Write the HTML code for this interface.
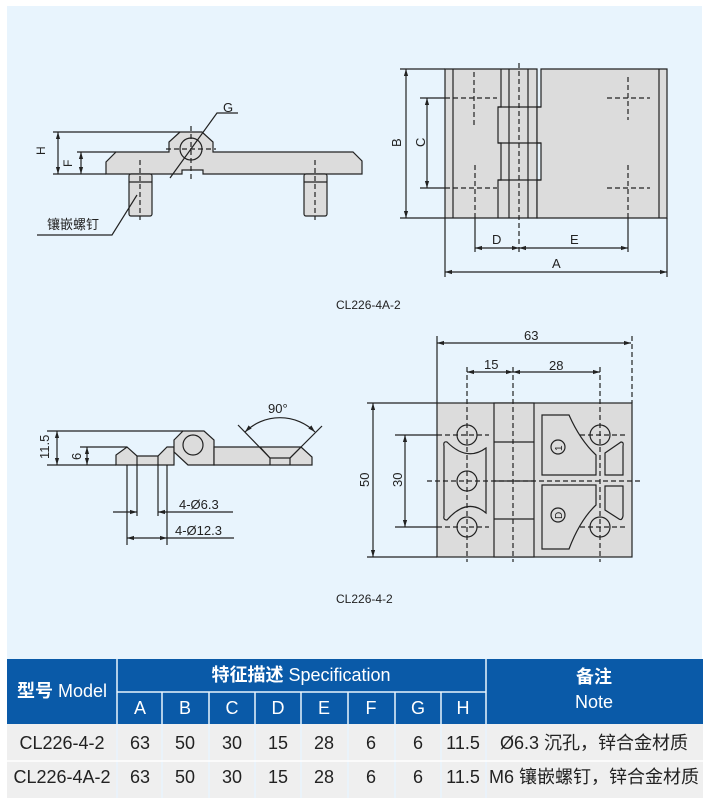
<!DOCTYPE html>
<html><head><meta charset="utf-8"><style>
body{margin:0;background:#fff;width:709px;height:798px;overflow:hidden;position:relative}
svg{position:absolute;left:0;top:0}
text{font-family:"Liberation Sans","Noto Sans CJK SC",sans-serif;fill:#222}
</style></head><body>
<svg width="709" height="798" viewBox="0 0 709 798" xmlns="http://www.w3.org/2000/svg">
<defs>
<marker id="a" viewBox="0 0 10 10" refX="10" refY="5" markerWidth="6" markerHeight="6" orient="auto-start-reverse"><path d="M0,2 L10,5 L0,8 z" fill="#222"/></marker>
</defs>
<rect x="7" y="6" width="695" height="792" fill="#e8f4fd"/>
<g stroke="#222" stroke-width="1.2" fill="#dcdcdc">
<path d="M106,174 L106,162 L116,152 L169,152 L169,142 L180,132 L202,132 L213,142 L213,152 L353,152 L362,161 L362,174 L203,174 L203,170 L182,170 L182,174 Z"/>
<circle cx="191" cy="149" r="11"/>
<rect x="129" y="174" width="23" height="42" rx="2"/>
<rect x="304" y="174" width="23" height="42" rx="2"/>
<line x1="129" y1="182" x2="152" y2="182"/><line x1="304" y1="182" x2="327" y2="182"/>
</g>
<g stroke="#222" stroke-width="1.2" fill="none">
<g stroke-dasharray="5,3"><line x1="140" y1="160" x2="140" y2="220"/><line x1="315" y1="160" x2="315" y2="220"/><line x1="191" y1="126" x2="191" y2="180"/><line x1="166" y1="149" x2="216" y2="149"/></g>
<line x1="53" y1="132" x2="180" y2="132"/><line x1="53" y1="174" x2="106" y2="174"/><line x1="77" y1="152" x2="116" y2="152"/>
<line x1="58" y1="132" x2="58" y2="174" marker-start="url(#a)" marker-end="url(#a)"/>
<line x1="81" y1="152" x2="81" y2="174" marker-start="url(#a)" marker-end="url(#a)"/>
<path d="M170,178 L217,113 L238,113"/>
<path d="M137,195 L112,235 L37,235"/>
</g>
<text x="40" y="150" font-size="12" transform="rotate(-90 45 150)">H</text>
<text x="64" y="167" font-size="12" transform="rotate(-90 68 163)">F</text>
<text x="223" y="112" font-size="13">G</text>
<text x="47" y="229" font-size="13">镶嵌螺钉</text>

<g stroke="#222" stroke-width="1.2" fill="#dcdcdc">
<path d="M445,69 L537,69 L537,218 L445,218 Z"/>
<path d="M541,69 L667,69 L667,218 L537,218 L537,180 L541,180 L541,143 L537,143 L537,107 L541,107 Z"/>
<path d="M501,69 L501,107 L498,107 L498,143 L501,143 L501,180 L498,180 L498,218" fill="none"/>
<line x1="498" y1="107" x2="541" y2="107"/><line x1="498" y1="143" x2="541" y2="143"/><line x1="498" y1="180" x2="541" y2="180"/>
<line x1="453" y1="69" x2="453" y2="218"/><line x1="509" y1="69" x2="509" y2="218"/><line x1="528" y1="69" x2="528" y2="218"/><line x1="659" y1="69" x2="659" y2="218"/>
</g>
<g stroke="#222" stroke-width="1.2" fill="none">
<g stroke-dasharray="5,3">
<line x1="445" y1="98" x2="497" y2="98"/><line x1="474" y1="72" x2="474" y2="128"/>
<line x1="445" y1="188" x2="497" y2="188"/><line x1="475" y1="165" x2="475" y2="218"/>
<line x1="607" y1="98" x2="650" y2="98"/><line x1="628" y1="77" x2="628" y2="120"/>
<line x1="607" y1="188" x2="650" y2="188"/><line x1="628" y1="165" x2="628" y2="218"/>
<line x1="519" y1="63" x2="519" y2="252"/>
</g>
<line x1="400" y1="69" x2="445" y2="69"/><line x1="400" y1="218" x2="445" y2="218"/>
<line x1="420" y1="98" x2="445" y2="98"/><line x1="420" y1="188" x2="445" y2="188"/>
<line x1="406" y1="69" x2="406" y2="218" marker-start="url(#a)" marker-end="url(#a)"/>
<line x1="427" y1="98" x2="427" y2="188" marker-start="url(#a)" marker-end="url(#a)"/>
<line x1="475" y1="218" x2="475" y2="252"/><line x1="628" y1="218" x2="628" y2="252"/>
<line x1="445" y1="218" x2="445" y2="277"/><line x1="667" y1="218" x2="667" y2="277"/>
<line x1="475" y1="248" x2="519" y2="248" marker-start="url(#a)" marker-end="url(#a)"/>
<line x1="519" y1="248" x2="628" y2="248" marker-start="url(#a)" marker-end="url(#a)"/>
<line x1="445" y1="272" x2="667" y2="272" marker-start="url(#a)" marker-end="url(#a)"/>
</g>
<text x="392" y="148" font-size="13" transform="rotate(-90 396 143)">B</text>
<text x="416" y="148" font-size="13" transform="rotate(-90 420 143)">C</text>
<text x="492" y="244" font-size="13">D</text>
<text x="570" y="244" font-size="13">E</text>
<text x="552" y="268" font-size="13">A</text>
<text x="336" y="309" font-size="12">CL226-4A-2</text>

<g stroke="#222" stroke-width="1.2" fill="#dcdcdc">
<path d="M116,465 L116,455 L127,447 L137,456 L158,456 L167,447 L174,447 L174,465 Z"/>
<line x1="137" y1="456" x2="137" y2="465"/><line x1="158" y1="456" x2="158" y2="465"/>
<path d="M174,440 L183,431 L204,431 L214,440 L214,465 L188,465 L174,452 Z"/>
<circle cx="193" cy="445" r="10"/>
<path d="M214,447 L301,447 L312,457 L312,465 L214,465 Z"/>
<path d="M260,447 L270,458 L290,458 L301,447" fill="none"/>
<path d="M270,458 L270,465 M290,458 L290,465" fill="none"/>
</g>
<g stroke="#222" stroke-width="1.2" fill="none">
<line x1="238" y1="425" x2="270" y2="458"/><line x1="322" y1="426" x2="290" y2="458"/>
<path d="M245,432 A50,50 0 0 1 315,432" marker-start="url(#a)" marker-end="url(#a)"/>
<line x1="47" y1="431" x2="183" y2="431"/><line x1="47" y1="465" x2="116" y2="465"/><line x1="80" y1="447" x2="127" y2="447"/>
<line x1="57" y1="431" x2="57" y2="465" marker-start="url(#a)" marker-end="url(#a)"/>
<line x1="87" y1="447" x2="87" y2="465" marker-start="url(#a)" marker-end="url(#a)"/>
<line x1="127" y1="465" x2="127" y2="545"/><line x1="137" y1="465" x2="137" y2="516"/><line x1="158" y1="465" x2="158" y2="516"/><line x1="167" y1="465" x2="167" y2="545"/>
<line x1="113" y1="512" x2="137" y2="512" marker-end="url(#a)"/><line x1="233" y1="512" x2="158" y2="512" marker-end="url(#a)"/>
<line x1="127" y1="538" x2="167" y2="538" marker-start="url(#a)" marker-end="url(#a)"/><line x1="167" y1="538" x2="234" y2="538"/>
</g>
<text x="268" y="413" font-size="13">90°</text>
<text x="33" y="453" font-size="13" transform="rotate(-90 44 448)">11.5</text>
<text x="73" y="460" font-size="13" transform="rotate(-90 77 456)">6</text>
<text x="179" y="509" font-size="13">4-Ø6.3</text>
<text x="175" y="535" font-size="13">4-Ø12.3</text>

<g stroke="#222" stroke-width="1.2" fill="#dcdcdc">
<rect x="437" y="403" width="195" height="154"/>
<rect x="494" y="403" width="40" height="154"/>
<line x1="494" y1="442" x2="534" y2="442"/><line x1="494" y1="481" x2="534" y2="481"/><line x1="494" y1="519" x2="534" y2="519"/>
<path d="M447,442 Q467,462 486,448 L486,513 Q467,497 447,520 Q443,520 444,516 L444,446 Q443,441 447,442 Z"/>
<path d="M542,415 L569,415 Q580,440 596,455 L596,475 L542,475 Z"/>
<path d="M605,453 L621,442 Q624,442 623,446 L623,475 L605,475 Z"/>
<path d="M542,485 L596,485 L596,505 Q580,520 569,549 L542,549 Z"/>
<path d="M605,486 L623,486 L623,516 Q622,521 619,519 L605,510 Z"/>
<circle cx="467" cy="435" r="10"/><circle cx="467" cy="481" r="10"/><circle cx="467" cy="527" r="10"/>
<circle cx="600" cy="435" r="10"/><circle cx="600" cy="527" r="10"/>
<circle cx="558" cy="447" r="7"/><circle cx="558" cy="515" r="7"/>
</g>
<g stroke="#222" stroke-width="1.2" fill="none">
<g stroke-dasharray="5,3">
<line x1="467" y1="367" x2="467" y2="562"/><line x1="513" y1="367" x2="513" y2="562"/><line x1="600" y1="367" x2="600" y2="562"/><line x1="632" y1="336" x2="632" y2="403"/>
<line x1="437" y1="435" x2="489" y2="435"/><line x1="437" y1="527" x2="489" y2="527"/>
<line x1="580" y1="435" x2="625" y2="435"/><line x1="580" y1="527" x2="625" y2="527"/>
<line x1="427" y1="481" x2="640" y2="481"/>
</g>
<line x1="437" y1="336" x2="437" y2="403"/>
<line x1="437" y1="343" x2="631" y2="343" marker-start="url(#a)" marker-end="url(#a)"/>
<line x1="467" y1="372" x2="513" y2="372" marker-start="url(#a)" marker-end="url(#a)"/>
<line x1="513" y1="372" x2="600" y2="372" marker-start="url(#a)" marker-end="url(#a)"/>
<line x1="367" y1="403" x2="437" y2="403"/><line x1="367" y1="557" x2="437" y2="557"/>
<line x1="395" y1="435" x2="437" y2="435"/><line x1="395" y1="527" x2="437" y2="527"/>
<line x1="373" y1="403" x2="373" y2="557" marker-start="url(#a)" marker-end="url(#a)"/>
<line x1="405" y1="435" x2="405" y2="527" marker-start="url(#a)" marker-end="url(#a)"/>
</g>
<text x="524" y="340" font-size="13">63</text>
<text x="484" y="369" font-size="13">15</text>
<text x="549" y="370" font-size="13">28</text>
<text x="357" y="485" font-size="13" transform="rotate(-90 364 480)">50</text>
<text x="390" y="485" font-size="13" transform="rotate(-90 397 480)">30</text>
<text x="554" y="451" font-size="10" transform="rotate(-90 558 447)">1</text>
<text x="554" y="519" font-size="10" transform="rotate(-90 558 515)">D</text>
<text x="336" y="603" font-size="12">CL226-4-2</text>

<rect x="7" y="659" width="696" height="65" fill="#0a5aa8"/>
<rect x="7" y="724" width="696" height="74" fill="#efefef"/>
<g stroke="#e8f4fd" stroke-width="1.5">
<line x1="117" y1="659" x2="117" y2="798"/><line x1="486" y1="659" x2="486" y2="798"/>
<line x1="117" y1="692" x2="486" y2="692"/>
<line x1="162" y1="692" x2="162" y2="798"/><line x1="209" y1="692" x2="209" y2="798"/><line x1="255" y1="692" x2="255" y2="798"/><line x1="301" y1="692" x2="301" y2="798"/><line x1="348" y1="692" x2="348" y2="798"/><line x1="395" y1="692" x2="395" y2="798"/><line x1="441" y1="692" x2="441" y2="798"/>
</g>
<line x1="7" y1="761" x2="703" y2="761" stroke="#fff" stroke-width="1.5"/>
<g font-size="18" text-anchor="middle">
<text x="62" y="697" style="fill:#fff;font-weight:bold">型号 <tspan font-weight="normal">Model</tspan></text>
<text x="301" y="681" style="fill:#fff"><tspan font-weight="bold">特征描述</tspan> Specification</text>
<text x="594" y="683" style="fill:#fff;font-weight:bold">备注</text>
<text x="594" y="708" style="fill:#fff">Note</text>
<text x="140" y="714" style="fill:#fff">A</text><text x="185" y="714" style="fill:#fff">B</text><text x="232" y="714" style="fill:#fff">C</text><text x="278" y="714" style="fill:#fff">D</text><text x="324" y="714" style="fill:#fff">E</text><text x="371" y="714" style="fill:#fff">F</text><text x="418" y="714" style="fill:#fff">G</text><text x="463" y="714" style="fill:#fff">H</text>
</g>
<g font-size="18" text-anchor="middle">
<text x="62" y="749">CL226-4-2</text><text x="140" y="749">63</text><text x="185" y="749">50</text><text x="232" y="749">30</text><text x="278" y="749">15</text><text x="324" y="749">28</text><text x="371" y="749">6</text><text x="418" y="749">6</text><text x="463" y="749">11.5</text><text x="594" y="749">Ø6.3 沉孔，锌合金材质</text>
<text x="62" y="783">CL226-4A-2</text><text x="140" y="783">63</text><text x="185" y="783">50</text><text x="232" y="783">30</text><text x="278" y="783">15</text><text x="324" y="783">28</text><text x="371" y="783">6</text><text x="418" y="783">6</text><text x="463" y="783">11.5</text><text x="594" y="783">M6 镶嵌螺钉，锌合金材质</text>
</g>
</svg>
</body></html>
